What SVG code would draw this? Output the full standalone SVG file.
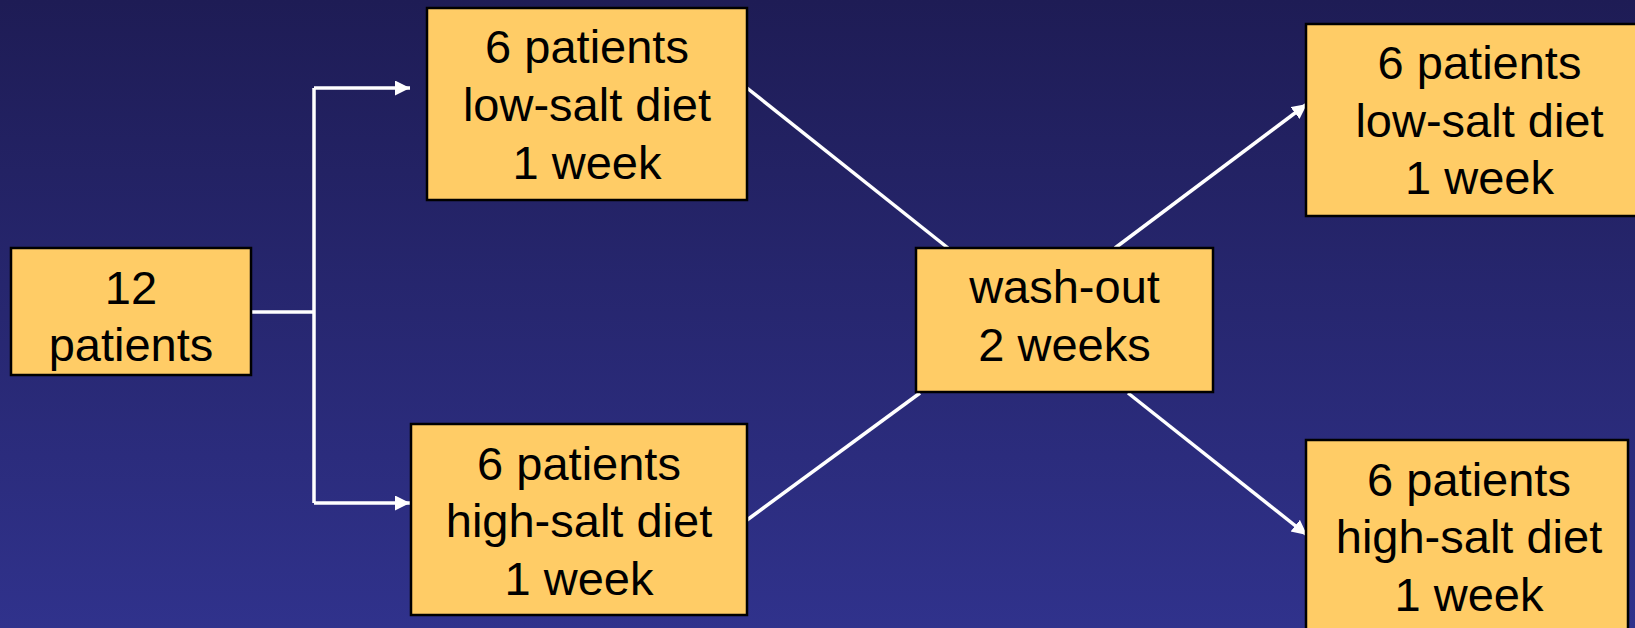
<svg xmlns="http://www.w3.org/2000/svg" width="1635" height="628" viewBox="0 0 1635 628">
<defs>
<linearGradient id="bg" x1="0" y1="0" x2="0" y2="1">
<stop offset="0" stop-color="#1e1c55"/>
<stop offset="1" stop-color="#30328c"/>
</linearGradient>
<marker id="ah" markerUnits="userSpaceOnUse" markerWidth="16" markerHeight="16" refX="15" refY="7.5" orient="auto">
<path d="M0,0 L15,7.5 L0,15 Z" fill="#ffffff"/>
</marker>
<style>
.box{fill:#ffcc66;stroke:#000000;stroke-width:2.5}
.lbl{font-family:"Liberation Sans",Arial,sans-serif;font-size:47px;fill:#000000;text-anchor:middle}
.con{fill:none;stroke:#ffffff;stroke-width:3.5}
</style>
</defs>
<rect x="0" y="0" width="1635" height="628" fill="url(#bg)"/>
<g id="connectors">
<path class="con" d="M251,312 H314"/>
<path class="con" d="M314,88 V503"/>
<path class="con" d="M314,88 H410" marker-end="url(#ah)"/>
<path class="con" d="M314,503 H410" marker-end="url(#ah)"/>
<path class="con" d="M747,88 L948,248"/>
<path class="con" d="M747,520 L920,393"/>
<path class="con" d="M1115,248 L1307,104" marker-end="url(#ah)"/>
<path class="con" d="M1128,393 L1307,535" marker-end="url(#ah)"/>
</g>
<g id="n12">
<rect class="box" x="11" y="248" width="240" height="127"/>
<text class="lbl" x="131" y="304">12</text>
<text class="lbl" x="131" y="361">patients</text>
</g>
<g id="lowA">
<rect class="box" x="427" y="8" width="320" height="192"/>
<text class="lbl" x="587" y="63">6 patients</text>
<text class="lbl" x="587" y="121">low-salt diet</text>
<text class="lbl" x="587" y="179">1 week</text>
</g>
<g id="highA">
<rect class="box" x="411" y="424" width="336" height="191"/>
<text class="lbl" x="579" y="480">6 patients</text>
<text class="lbl" x="579" y="537">high-salt diet</text>
<text class="lbl" x="579" y="595">1 week</text>
</g>
<g id="washout">
<rect class="box" x="916" y="248" width="297" height="144"/>
<text class="lbl" x="1064.5" y="303">wash-out</text>
<text class="lbl" x="1064.5" y="361">2 weeks</text>
</g>
<g id="lowB">
<rect class="box" x="1306" y="24" width="360" height="192"/>
<text class="lbl" x="1479.5" y="79">6 patients</text>
<text class="lbl" x="1479.5" y="137">low-salt diet</text>
<text class="lbl" x="1479.5" y="194">1 week</text>
</g>
<g id="highB">
<rect class="box" x="1306" y="440" width="322" height="200"/>
<text class="lbl" x="1469" y="496">6 patients</text>
<text class="lbl" x="1469" y="553">high-salt diet</text>
<text class="lbl" x="1469" y="611">1 week</text>
</g>
</svg>
